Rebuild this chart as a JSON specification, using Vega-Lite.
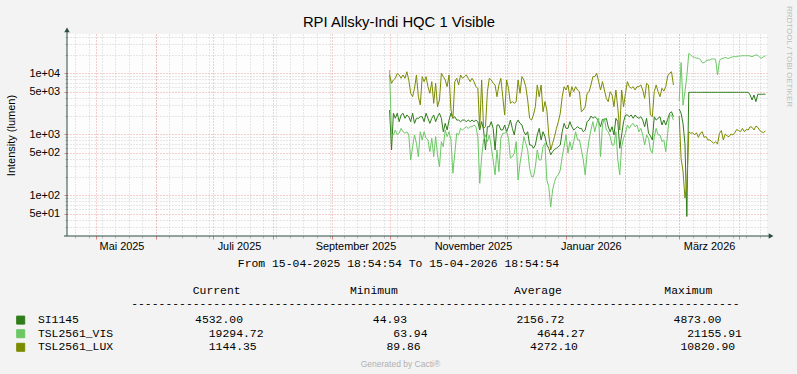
{
  "$schema": "https://vega.github.io/schema/vega-lite/v6.json",
  "width": 700,
  "height": 202,
  "autosize": {"type": "none"},
  "padding": {"left": 67, "top": 34, "right": 30, "bottom": 138},
  "background": "#F3F3F3",
  "config": {"view": {"stroke": null, "fill": "#FDFDFD"}, "font": "Liberation Sans"},
  "resolve": {"axis": {"x": "independent", "y": "independent"}},
  "layer": [
    {
      "data": {"values": [
        {"date":"2025-10-01","seg":1,"SI1145":2500,"TSL2561_VIS":11300,"TSL2561_LUX":9380},
        {"date":"2025-10-02","seg":1,"SI1145":553,"TSL2561_VIS":975,"TSL2561_LUX":6850},
        {"date":"2025-10-03","seg":1,"SI1145":2210,"TSL2561_VIS":975,"TSL2561_LUX":7770},
        {"date":"2025-10-04","seg":1,"SI1145":1830,"TSL2561_VIS":1175,"TSL2561_LUX":8280},
        {"date":"2025-10-05","seg":1,"SI1145":2210,"TSL2561_VIS":975,"TSL2561_LUX":10000},
        {"date":"2025-10-06","seg":1,"SI1145":1610,"TSL2561_VIS":1040,"TSL2561_LUX":9380},
        {"date":"2025-10-07","seg":1,"SI1145":2070,"TSL2561_VIS":1250,"TSL2561_LUX":8280},
        {"date":"2025-10-08","seg":1,"SI1145":2210,"TSL2561_VIS":1100,"TSL2561_LUX":9380},
        {"date":"2025-10-09","seg":1,"SI1145":1830,"TSL2561_VIS":1040,"TSL2561_LUX":8280},
        {"date":"2025-10-10","seg":1,"SI1145":2070,"TSL2561_VIS":1100,"TSL2561_LUX":10600},
        {"date":"2025-10-11","seg":1,"SI1145":1940,"TSL2561_VIS":975,"TSL2561_LUX":7770},
        {"date":"2025-10-12","seg":1,"SI1145":1610,"TSL2561_VIS":379,"TSL2561_LUX":4700},
        {"date":"2025-10-13","seg":1,"SI1145":2210,"TSL2561_VIS":627,"TSL2561_LUX":4130},
        {"date":"2025-10-14","seg":1,"SI1145":1510,"TSL2561_VIS":975,"TSL2561_LUX":5680},
        {"date":"2025-10-15","seg":1,"SI1145":1830,"TSL2561_VIS":711,"TSL2561_LUX":9380},
        {"date":"2025-10-16","seg":1,"SI1145":1830,"TSL2561_VIS":430,"TSL2561_LUX":4130},
        {"date":"2025-10-17","seg":1,"SI1145":1940,"TSL2561_VIS":1100,"TSL2561_LUX":3020},
        {"date":"2025-10-18","seg":1,"SI1145":1940,"TSL2561_VIS":807,"TSL2561_LUX":8800},
        {"date":"2025-10-19","seg":1,"SI1145":1610,"TSL2561_VIS":1100,"TSL2561_LUX":7290},
        {"date":"2025-10-20","seg":1,"SI1145":2210,"TSL2561_VIS":860,"TSL2561_LUX":8800},
        {"date":"2025-10-21","seg":1,"SI1145":1830,"TSL2561_VIS":807,"TSL2561_LUX":6030},
        {"date":"2025-10-22","seg":1,"SI1145":1510,"TSL2561_VIS":519,"TSL2561_LUX":4700},
        {"date":"2025-10-23","seg":1,"SI1145":1830,"TSL2561_VIS":860,"TSL2561_LUX":7290},
        {"date":"2025-10-24","seg":1,"SI1145":2070,"TSL2561_VIS":430,"TSL2561_LUX":3220},
        {"date":"2025-10-25","seg":1,"SI1145":1610,"TSL2561_VIS":915,"TSL2561_LUX":6850},
        {"date":"2025-10-26","seg":1,"SI1145":1940,"TSL2561_VIS":460,"TSL2561_LUX":2830},
        {"date":"2025-10-27","seg":1,"SI1145":2210,"TSL2561_VIS":294,"TSL2561_LUX":3650},
        {"date":"2025-10-28","seg":1,"SI1145":1830,"TSL2561_VIS":757,"TSL2561_LUX":10000},
        {"date":"2025-10-29","seg":1,"SI1145":1100,"TSL2561_VIS":627,"TSL2561_LUX":8800},
        {"date":"2025-10-30","seg":1,"SI1145":1510,"TSL2561_VIS":1175,"TSL2561_LUX":7770},
        {"date":"2025-10-31","seg":1,"SI1145":1175,"TSL2561_VIS":915,"TSL2561_LUX":6030},
        {"date":"2025-11-01","seg":1,"SI1145":1710,"TSL2561_VIS":1100,"TSL2561_LUX":9380},
        {"date":"2025-11-02","seg":1,"SI1145":2210,"TSL2561_VIS":807,"TSL2561_LUX":2500},
        {"date":"2025-11-03","seg":1,"SI1145":1830,"TSL2561_VIS":230,"TSL2561_LUX":1830},
        {"date":"2025-11-04","seg":1,"SI1145":1940,"TSL2561_VIS":489,"TSL2561_LUX":7290},
        {"date":"2025-11-05","seg":1,"SI1145":1710,"TSL2561_VIS":1040,"TSL2561_LUX":8280},
        {"date":"2025-11-06","seg":1,"SI1145":1710,"TSL2561_VIS":975,"TSL2561_LUX":6430},
        {"date":"2025-11-07","seg":1,"SI1145":1610,"TSL2561_VIS":1250,"TSL2561_LUX":9380},
        {"date":"2025-11-08","seg":1,"SI1145":1710,"TSL2561_VIS":1175,"TSL2561_LUX":8280},
        {"date":"2025-11-09","seg":1,"SI1145":1710,"TSL2561_VIS":1250,"TSL2561_LUX":8800},
        {"date":"2025-11-10","seg":1,"SI1145":1610,"TSL2561_VIS":1330,"TSL2561_LUX":9380},
        {"date":"2025-11-11","seg":1,"SI1145":1710,"TSL2561_VIS":1250,"TSL2561_LUX":8280},
        {"date":"2025-11-12","seg":1,"SI1145":1610,"TSL2561_VIS":1330,"TSL2561_LUX":7290},
        {"date":"2025-11-13","seg":1,"SI1145":1710,"TSL2561_VIS":1330,"TSL2561_LUX":8280},
        {"date":"2025-11-14","seg":1,"SI1145":1610,"TSL2561_VIS":1420,"TSL2561_LUX":7290},
        {"date":"2025-11-15","seg":1,"SI1145":1710,"TSL2561_VIS":1330,"TSL2561_LUX":6030},
        {"date":"2025-11-16","seg":1,"SI1145":1610,"TSL2561_VIS":915,"TSL2561_LUX":5680},
        {"date":"2025-11-17","seg":1,"SI1145":1175,"TSL2561_VIS":157,"TSL2561_LUX":1250},
        {"date":"2025-11-18","seg":1,"SI1145":1610,"TSL2561_VIS":430,"TSL2561_LUX":7770},
        {"date":"2025-11-19","seg":1,"SI1145":1175,"TSL2561_VIS":807,"TSL2561_LUX":1250},
        {"date":"2025-11-20","seg":1,"SI1145":553,"TSL2561_VIS":975,"TSL2561_LUX":1330},
        {"date":"2025-11-21","seg":1,"SI1145":1330,"TSL2561_VIS":757,"TSL2561_LUX":4990},
        {"date":"2025-11-22","seg":1,"SI1145":1330,"TSL2561_VIS":975,"TSL2561_LUX":8280},
        {"date":"2025-11-23","seg":1,"SI1145":1610,"TSL2561_VIS":627,"TSL2561_LUX":7770},
        {"date":"2025-11-24","seg":1,"SI1145":1250,"TSL2561_VIS":379,"TSL2561_LUX":6850},
        {"date":"2025-11-25","seg":1,"SI1145":553,"TSL2561_VIS":216,"TSL2561_LUX":6430},
        {"date":"2025-11-26","seg":1,"SI1145":1420,"TSL2561_VIS":553,"TSL2561_LUX":4130},
        {"date":"2025-11-27","seg":1,"SI1145":1420,"TSL2561_VIS":245,"TSL2561_LUX":6430},
        {"date":"2025-11-28","seg":1,"SI1145":1175,"TSL2561_VIS":860,"TSL2561_LUX":8280},
        {"date":"2025-11-29","seg":1,"SI1145":1175,"TSL2561_VIS":1040,"TSL2561_LUX":4130},
        {"date":"2025-11-30","seg":1,"SI1145":1420,"TSL2561_VIS":1040,"TSL2561_LUX":2070},
        {"date":"2025-12-01","seg":1,"SI1145":1100,"TSL2561_VIS":1100,"TSL2561_LUX":7770},
        {"date":"2025-12-02","seg":1,"SI1145":1330,"TSL2561_VIS":860,"TSL2561_LUX":5680},
        {"date":"2025-12-03","seg":1,"SI1145":1710,"TSL2561_VIS":405,"TSL2561_LUX":3220},
        {"date":"2025-12-04","seg":1,"SI1145":1250,"TSL2561_VIS":430,"TSL2561_LUX":3430},
        {"date":"2025-12-05","seg":1,"SI1145":975,"TSL2561_VIS":489,"TSL2561_LUX":3220},
        {"date":"2025-12-06","seg":1,"SI1145":1510,"TSL2561_VIS":757,"TSL2561_LUX":3430},
        {"date":"2025-12-07","seg":1,"SI1145":1710,"TSL2561_VIS":178,"TSL2561_LUX":7770},
        {"date":"2025-12-08","seg":1,"SI1145":1510,"TSL2561_VIS":335,"TSL2561_LUX":4700},
        {"date":"2025-12-09","seg":1,"SI1145":1420,"TSL2561_VIS":519,"TSL2561_LUX":8800},
        {"date":"2025-12-10","seg":1,"SI1145":1100,"TSL2561_VIS":915,"TSL2561_LUX":7770},
        {"date":"2025-12-11","seg":1,"SI1145":975,"TSL2561_VIS":711,"TSL2561_LUX":6030},
        {"date":"2025-12-12","seg":1,"SI1145":1100,"TSL2561_VIS":553,"TSL2561_LUX":3650},
        {"date":"2025-12-13","seg":1,"SI1145":667,"TSL2561_VIS":277,"TSL2561_LUX":1830},
        {"date":"2025-12-14","seg":1,"SI1145":667,"TSL2561_VIS":202,"TSL2561_LUX":1710},
        {"date":"2025-12-15","seg":1,"SI1145":590,"TSL2561_VIS":202,"TSL2561_LUX":2070},
        {"date":"2025-12-16","seg":1,"SI1145":667,"TSL2561_VIS":294,"TSL2561_LUX":2830},
        {"date":"2025-12-17","seg":1,"SI1145":975,"TSL2561_VIS":553,"TSL2561_LUX":6430},
        {"date":"2025-12-18","seg":1,"SI1145":1250,"TSL2561_VIS":379,"TSL2561_LUX":4130},
        {"date":"2025-12-19","seg":1,"SI1145":807,"TSL2561_VIS":379,"TSL2561_LUX":6430},
        {"date":"2025-12-20","seg":1,"SI1145":1100,"TSL2561_VIS":627,"TSL2561_LUX":2340},
        {"date":"2025-12-21","seg":1,"SI1145":915,"TSL2561_VIS":711,"TSL2561_LUX":3430},
        {"date":"2025-12-22","seg":1,"SI1145":667,"TSL2561_VIS":178,"TSL2561_LUX":2500},
        {"date":"2025-12-23","seg":1,"SI1145":590,"TSL2561_VIS":138,"TSL2561_LUX":975},
        {"date":"2025-12-24","seg":1,"SI1145":460,"TSL2561_VIS":63.94,"TSL2561_LUX":553},
        {"date":"2025-12-25","seg":1,"SI1145":519,"TSL2561_VIS":122,"TSL2561_LUX":711},
        {"date":"2025-12-26","seg":1,"SI1145":565,"TSL2561_VIS":167,"TSL2561_LUX":915},
        {"date":"2025-12-27","seg":1,"SI1145":590,"TSL2561_VIS":202,"TSL2561_LUX":1250},
        {"date":"2025-12-28","seg":1,"SI1145":627,"TSL2561_VIS":216,"TSL2561_LUX":1610},
        {"date":"2025-12-29","seg":1,"SI1145":667,"TSL2561_VIS":260,"TSL2561_LUX":2210},
        {"date":"2025-12-30","seg":1,"SI1145":1100,"TSL2561_VIS":430,"TSL2561_LUX":4130},
        {"date":"2025-12-31","seg":1,"SI1145":1510,"TSL2561_VIS":627,"TSL2561_LUX":6030},
        {"date":"2026-01-01","seg":1,"SI1145":1250,"TSL2561_VIS":975,"TSL2561_LUX":5320},
        {"date":"2026-01-02","seg":1,"SI1145":1250,"TSL2561_VIS":489,"TSL2561_LUX":6430},
        {"date":"2026-01-03","seg":1,"SI1145":1610,"TSL2561_VIS":757,"TSL2561_LUX":4130},
        {"date":"2026-01-04","seg":1,"SI1145":1330,"TSL2561_VIS":553,"TSL2561_LUX":6030},
        {"date":"2026-01-05","seg":1,"SI1145":1175,"TSL2561_VIS":757,"TSL2561_LUX":4990},
        {"date":"2026-01-06","seg":1,"SI1145":1250,"TSL2561_VIS":1100,"TSL2561_LUX":6030},
        {"date":"2026-01-07","seg":1,"SI1145":1330,"TSL2561_VIS":807,"TSL2561_LUX":5320},
        {"date":"2026-01-08","seg":1,"SI1145":1250,"TSL2561_VIS":807,"TSL2561_LUX":4990},
        {"date":"2026-01-09","seg":1,"SI1145":1250,"TSL2561_VIS":553,"TSL2561_LUX":2340},
        {"date":"2026-01-10","seg":1,"SI1145":1100,"TSL2561_VIS":379,"TSL2561_LUX":2500},
        {"date":"2026-01-11","seg":1,"SI1145":1175,"TSL2561_VIS":216,"TSL2561_LUX":2830},
        {"date":"2026-01-12","seg":1,"SI1145":1610,"TSL2561_VIS":489,"TSL2561_LUX":4700},
        {"date":"2026-01-13","seg":1,"SI1145":1710,"TSL2561_VIS":807,"TSL2561_LUX":4990},
        {"date":"2026-01-14","seg":1,"SI1145":1990,"TSL2561_VIS":1175,"TSL2561_LUX":6430},
        {"date":"2026-01-15","seg":1,"SI1145":1830,"TSL2561_VIS":1610,"TSL2561_LUX":8800},
        {"date":"2026-01-16","seg":1,"SI1145":1940,"TSL2561_VIS":1100,"TSL2561_LUX":8800},
        {"date":"2026-01-17","seg":1,"SI1145":1830,"TSL2561_VIS":1510,"TSL2561_LUX":10000},
        {"date":"2026-01-18","seg":1,"SI1145":1610,"TSL2561_VIS":1830,"TSL2561_LUX":7290},
        {"date":"2026-01-19","seg":1,"SI1145":1330,"TSL2561_VIS":430,"TSL2561_LUX":5320},
        {"date":"2026-01-20","seg":1,"SI1145":1760,"TSL2561_VIS":1420,"TSL2561_LUX":7290},
        {"date":"2026-01-21","seg":1,"SI1145":1710,"TSL2561_VIS":1830,"TSL2561_LUX":5320},
        {"date":"2026-01-22","seg":1,"SI1145":1830,"TSL2561_VIS":1175,"TSL2561_LUX":3880},
        {"date":"2026-01-23","seg":1,"SI1145":1330,"TSL2561_VIS":1100,"TSL2561_LUX":3430},
        {"date":"2026-01-24","seg":1,"SI1145":1100,"TSL2561_VIS":915,"TSL2561_LUX":4990},
        {"date":"2026-01-25","seg":1,"SI1145":1330,"TSL2561_VIS":667,"TSL2561_LUX":4400},
        {"date":"2026-01-26","seg":1,"SI1145":975,"TSL2561_VIS":667,"TSL2561_LUX":2830},
        {"date":"2026-01-27","seg":1,"SI1145":1830,"TSL2561_VIS":1100,"TSL2561_LUX":5320},
        {"date":"2026-01-28","seg":1,"SI1145":1610,"TSL2561_VIS":379,"TSL2561_LUX":2660},
        {"date":"2026-01-29","seg":1,"SI1145":590,"TSL2561_VIS":216,"TSL2561_LUX":1175},
        {"date":"2026-01-30","seg":1,"SI1145":975,"TSL2561_VIS":627,"TSL2561_LUX":5320},
        {"date":"2026-01-31","seg":1,"SI1145":1610,"TSL2561_VIS":860,"TSL2561_LUX":2830},
        {"date":"2026-02-01","seg":1,"SI1145":2070,"TSL2561_VIS":1040,"TSL2561_LUX":4700},
        {"date":"2026-02-02","seg":1,"SI1145":2070,"TSL2561_VIS":1420,"TSL2561_LUX":7290},
        {"date":"2026-02-03","seg":1,"SI1145":1940,"TSL2561_VIS":1250,"TSL2561_LUX":6030},
        {"date":"2026-02-04","seg":1,"SI1145":2070,"TSL2561_VIS":1420,"TSL2561_LUX":5680},
        {"date":"2026-02-05","seg":1,"SI1145":1830,"TSL2561_VIS":1510,"TSL2561_LUX":6030},
        {"date":"2026-02-06","seg":1,"SI1145":2070,"TSL2561_VIS":1330,"TSL2561_LUX":5320},
        {"date":"2026-02-07","seg":1,"SI1145":1900,"TSL2561_VIS":1420,"TSL2561_LUX":6030},
        {"date":"2026-02-08","seg":1,"SI1145":1830,"TSL2561_VIS":1100,"TSL2561_LUX":6030},
        {"date":"2026-02-09","seg":1,"SI1145":1940,"TSL2561_VIS":1250,"TSL2561_LUX":6430},
        {"date":"2026-02-10","seg":1,"SI1145":1710,"TSL2561_VIS":975,"TSL2561_LUX":5320},
        {"date":"2026-02-11","seg":1,"SI1145":1330,"TSL2561_VIS":667,"TSL2561_LUX":3880},
        {"date":"2026-02-12","seg":1,"SI1145":1830,"TSL2561_VIS":975,"TSL2561_LUX":6850},
        {"date":"2026-02-13","seg":1,"SI1145":1040,"TSL2561_VIS":860,"TSL2561_LUX":6430},
        {"date":"2026-02-14","seg":1,"SI1145":940,"TSL2561_VIS":553,"TSL2561_LUX":2070},
        {"date":"2026-02-15","seg":1,"SI1145":807,"TSL2561_VIS":489,"TSL2561_LUX":1940},
        {"date":"2026-02-16","seg":1,"SI1145":1940,"TSL2561_VIS":915,"TSL2561_LUX":4990},
        {"date":"2026-02-17","seg":1,"SI1145":1710,"TSL2561_VIS":1250,"TSL2561_LUX":6430},
        {"date":"2026-02-18","seg":1,"SI1145":1830,"TSL2561_VIS":975,"TSL2561_LUX":4990},
        {"date":"2026-02-19","seg":1,"SI1145":1940,"TSL2561_VIS":975,"TSL2561_LUX":4130},
        {"date":"2026-02-20","seg":1,"SI1145":1420,"TSL2561_VIS":757,"TSL2561_LUX":5680},
        {"date":"2026-02-21","seg":1,"SI1145":1710,"TSL2561_VIS":807,"TSL2561_LUX":5100},
        {"date":"2026-02-22","seg":1,"SI1145":1420,"TSL2561_VIS":519,"TSL2561_LUX":6030},
        {"date":"2026-02-23","seg":1,"SI1145":1760,"TSL2561_VIS":1040,"TSL2561_LUX":9000},
        {"date":"2026-02-24","seg":1,"SI1145":2210,"TSL2561_VIS":2070,"TSL2561_LUX":10000},
        {"date":"2026-02-25","seg":1,"SI1145":2340,"TSL2561_VIS":2070,"TSL2561_LUX":10600},
        {"date":"2026-02-26","seg":1,"SI1145":1940,"TSL2561_VIS":1710,"TSL2561_LUX":6430},
        {"date":"2026-03-01","seg":2,"SI1145":2600,"TSL2561_VIS":3500,"TSL2561_LUX":2000},
        {"date":"2026-03-02","seg":2,"SI1145":2200,"TSL2561_VIS":15000,"TSL2561_LUX":400},
        {"date":"2026-03-03","seg":2,"SI1145":1500,"TSL2561_VIS":3000,"TSL2561_LUX":250},
        {"date":"2026-03-04","seg":2,"SI1145":700,"TSL2561_VIS":5000,"TSL2561_LUX":89.86},
        {"date":"2026-03-05","seg":2,"SI1145":44.93,"TSL2561_VIS":9000,"TSL2561_LUX":150},
        {"date":"2026-03-06","seg":2,"SI1145":4873,"TSL2561_VIS":21155.91,"TSL2561_LUX":1100},
        {"date":"2026-03-07","seg":2,"SI1145":4873,"TSL2561_VIS":19950,"TSL2561_LUX":1040},
        {"date":"2026-03-08","seg":2,"SI1145":4873,"TSL2561_VIS":18700,"TSL2561_LUX":1060},
        {"date":"2026-03-09","seg":2,"SI1145":4873,"TSL2561_VIS":18200,"TSL2561_LUX":975},
        {"date":"2026-03-10","seg":2,"SI1145":4873,"TSL2561_VIS":17640,"TSL2561_LUX":1060},
        {"date":"2026-03-11","seg":2,"SI1145":4873,"TSL2561_VIS":17640,"TSL2561_LUX":890},
        {"date":"2026-03-12","seg":2,"SI1145":4873,"TSL2561_VIS":16900,"TSL2561_LUX":1040},
        {"date":"2026-03-13","seg":2,"SI1145":4873,"TSL2561_VIS":14900,"TSL2561_LUX":1100},
        {"date":"2026-03-14","seg":2,"SI1145":4873,"TSL2561_VIS":14900,"TSL2561_LUX":890},
        {"date":"2026-03-15","seg":2,"SI1145":4873,"TSL2561_VIS":16000,"TSL2561_LUX":915},
        {"date":"2026-03-16","seg":2,"SI1145":4873,"TSL2561_VIS":16500,"TSL2561_LUX":807},
        {"date":"2026-03-17","seg":2,"SI1145":4873,"TSL2561_VIS":16500,"TSL2561_LUX":807},
        {"date":"2026-03-18","seg":2,"SI1145":4873,"TSL2561_VIS":17200,"TSL2561_LUX":757},
        {"date":"2026-03-19","seg":2,"SI1145":4873,"TSL2561_VIS":17200,"TSL2561_LUX":711},
        {"date":"2026-03-20","seg":2,"SI1145":4873,"TSL2561_VIS":16900,"TSL2561_LUX":757},
        {"date":"2026-03-21","seg":2,"SI1145":4873,"TSL2561_VIS":9400,"TSL2561_LUX":690},
        {"date":"2026-03-22","seg":2,"SI1145":4873,"TSL2561_VIS":16000,"TSL2561_LUX":1040},
        {"date":"2026-03-23","seg":2,"SI1145":4873,"TSL2561_VIS":17400,"TSL2561_LUX":1150},
        {"date":"2026-03-24","seg":2,"SI1145":4873,"TSL2561_VIS":17640,"TSL2561_LUX":807},
        {"date":"2026-03-25","seg":2,"SI1145":4873,"TSL2561_VIS":18200,"TSL2561_LUX":1010},
        {"date":"2026-03-26","seg":2,"SI1145":4873,"TSL2561_VIS":17640,"TSL2561_LUX":940},
        {"date":"2026-03-27","seg":2,"SI1145":4873,"TSL2561_VIS":17640,"TSL2561_LUX":915},
        {"date":"2026-03-28","seg":2,"SI1145":4873,"TSL2561_VIS":18200,"TSL2561_LUX":1010},
        {"date":"2026-03-29","seg":2,"SI1145":4873,"TSL2561_VIS":18700,"TSL2561_LUX":975},
        {"date":"2026-03-30","seg":2,"SI1145":4873,"TSL2561_VIS":18700,"TSL2561_LUX":1060},
        {"date":"2026-03-31","seg":2,"SI1145":4873,"TSL2561_VIS":18700,"TSL2561_LUX":1200},
        {"date":"2026-04-01","seg":2,"SI1145":4873,"TSL2561_VIS":19200,"TSL2561_LUX":1150},
        {"date":"2026-04-02","seg":2,"SI1145":4873,"TSL2561_VIS":19200,"TSL2561_LUX":1100},
        {"date":"2026-04-03","seg":2,"SI1145":4873,"TSL2561_VIS":19400,"TSL2561_LUX":1250},
        {"date":"2026-04-04","seg":2,"SI1145":4873,"TSL2561_VIS":19400,"TSL2561_LUX":1100},
        {"date":"2026-04-05","seg":2,"SI1145":4873,"TSL2561_VIS":19400,"TSL2561_LUX":1200},
        {"date":"2026-04-06","seg":2,"SI1145":4873,"TSL2561_VIS":19400,"TSL2561_LUX":1175},
        {"date":"2026-04-07","seg":2,"SI1145":4410,"TSL2561_VIS":19200,"TSL2561_LUX":1330},
        {"date":"2026-04-08","seg":2,"SI1145":3650,"TSL2561_VIS":18700,"TSL2561_LUX":1300},
        {"date":"2026-04-09","seg":2,"SI1145":4410,"TSL2561_VIS":19400,"TSL2561_LUX":1175},
        {"date":"2026-04-10","seg":2,"SI1145":3430,"TSL2561_VIS":19950,"TSL2561_LUX":1360},
        {"date":"2026-04-11","seg":2,"SI1145":4532,"TSL2561_VIS":19700,"TSL2561_LUX":1300},
        {"date":"2026-04-12","seg":2,"SI1145":4532,"TSL2561_VIS":18200,"TSL2561_LUX":1150},
        {"date":"2026-04-13","seg":2,"SI1145":4532,"TSL2561_VIS":17640,"TSL2561_LUX":1100},
        {"date":"2026-04-14","seg":2,"SI1145":4532,"TSL2561_VIS":18700,"TSL2561_LUX":1060},
        {"date":"2026-04-15","seg":2,"SI1145":4532,"TSL2561_VIS":19294.72,"TSL2561_LUX":1144.35}
      ]},
      "transform": [{"fold": ["SI1145", "TSL2561_VIS", "TSL2561_LUX"], "as": ["series", "value"]}],
      "mark": {"type": "line", "strokeWidth": 1, "clip": true},
      "encoding": {
        "x": {"field": "date", "type": "temporal",
          "scale": {"type": "utc", "nice": false, "domain": [{"year": 2025, "month": 4, "date": 15, "hours": 18, "minutes": 54, "seconds": 54, "utc": true}, {"year": 2026, "month": 4, "date": 15, "hours": 18, "minutes": 54, "seconds": 54, "utc": true}]},
          "axis": {"orient": "bottom", "tickCount": {"interval": "week", "step": 1}, "grid": true, "gridColor": "#CFCFCF", "gridDash": [1, 2], "gridWidth": 1, "ticks": true, "tickColor": "#BBBBBB", "tickSize": 2, "labels": false, "domain": false,
            "title": "Generated by Cacti®", "titleX": 333, "titleY": 127, "titleAlign": "center", "titleBaseline": "middle", "titleAngle": 0, "titleFont": "Liberation Sans", "titleFontSize": 8.5, "titleFontWeight": "normal", "titleColor": "#B0B0B0"}},
        "y": {"field": "value", "type": "quantitative",
          "scale": {"type": "log", "domain": [21.5, 44050], "nice": false},
          "axis": {"orient": "left", "values": [30, 40, 60, 70, 80, 90, 200, 300, 400, 600, 700, 800, 900, 2000, 3000, 4000, 6000, 7000, 8000, 9000, 20000, 30000, 40000], "grid": true, "gridColor": "#CFCFCF", "gridDash": [1, 2], "ticks": true, "tickColor": "#BBBBBB", "tickSize": 2, "labels": false, "domain": false,
            "title": "Intensity (lumen)", "titleX": -56, "titleY": 101, "titleAngle": 270, "titleAlign": "center", "titleBaseline": "middle", "titleFont": "Liberation Sans", "titleFontSize": 11, "titleFontWeight": "normal", "titleColor": "#000000"}},
        "color": {"field": "series", "type": "nominal",
          "scale": {"domain": ["SI1145", "TSL2561_VIS", "TSL2561_LUX"], "range": ["#2E7D1A", "#6CC865", "#7C8C00"]},
          "legend": {
            "orient": "none", "legendX": -52, "legendY": 251, "direction": "vertical", "padding": 0,
            "title": ["\u200b\u00a0\u00a0\u00a0\u00a0\u00a0\u00a0\u00a0\u00a0\u00a0\u00a0\u00a0\u00a0\u00a0\u00a0\u00a0\u00a0\u00a0\u00a0\u00a0\u00a0\u00a0\u00a0\u00a0\u00a0\u00a0\u00a0Current\u00a0\u00a0\u00a0\u00a0\u00a0\u00a0\u00a0\u00a0\u00a0\u00a0\u00a0\u00a0\u00a0\u00a0\u00a0\u00a0Minimum\u00a0\u00a0\u00a0\u00a0\u00a0\u00a0\u00a0\u00a0\u00a0\u00a0\u00a0\u00a0\u00a0\u00a0\u00a0\u00a0\u00a0Average\u00a0\u00a0\u00a0\u00a0\u00a0\u00a0\u00a0\u00a0\u00a0\u00a0\u00a0\u00a0\u00a0\u00a0\u00a0Maximum", "\u200b\u00a0\u00a0\u00a0\u00a0\u00a0\u00a0\u00a0\u00a0\u00a0\u00a0\u00a0\u00a0\u00a0\u00a0\u00a0\u00a0\u00a0-----------------------------------------------------------------------------------------"],
            "titleFont": "Liberation Mono", "titleFontSize": 11.4, "titleFontWeight": "normal", "titleColor": "#000000", "titleLineHeight": 13, "titlePadding": 5, "titleLimit": 2000, "titleAnchor": "start",
            "labelFont": "Liberation Mono", "labelFontSize": 11.4, "labelColor": "#000000", "labelLimit": 2000, "labelOffset": 11.5,
            "labelExpr": "datum.label == 'SI1145' ? 'SI1145\u00a0\u00a0\u00a0\u00a0\u00a0\u00a0\u00a0\u00a0\u00a0\u00a0\u00a0\u00a0\u00a0\u00a0\u00a0\u00a0\u00a04532.00\u00a0\u00a0\u00a0\u00a0\u00a0\u00a0\u00a0\u00a0\u00a0\u00a0\u00a0\u00a0\u00a0\u00a0\u00a0\u00a0\u00a0\u00a0\u00a044.93\u00a0\u00a0\u00a0\u00a0\u00a0\u00a0\u00a0\u00a0\u00a0\u00a0\u00a0\u00a0\u00a0\u00a0\u00a0\u00a02156.72\u00a0\u00a0\u00a0\u00a0\u00a0\u00a0\u00a0\u00a0\u00a0\u00a0\u00a0\u00a0\u00a0\u00a0\u00a0\u00a04873.00' : datum.label == 'TSL2561_VIS' ? 'TSL2561_VIS\u00a0\u00a0\u00a0\u00a0\u00a0\u00a0\u00a0\u00a0\u00a0\u00a0\u00a0\u00a0\u00a0\u00a019294.72\u00a0\u00a0\u00a0\u00a0\u00a0\u00a0\u00a0\u00a0\u00a0\u00a0\u00a0\u00a0\u00a0\u00a0\u00a0\u00a0\u00a0\u00a0\u00a063.94\u00a0\u00a0\u00a0\u00a0\u00a0\u00a0\u00a0\u00a0\u00a0\u00a0\u00a0\u00a0\u00a0\u00a0\u00a0\u00a04644.27\u00a0\u00a0\u00a0\u00a0\u00a0\u00a0\u00a0\u00a0\u00a0\u00a0\u00a0\u00a0\u00a0\u00a0\u00a021155.91' : 'TSL2561_LUX\u00a0\u00a0\u00a0\u00a0\u00a0\u00a0\u00a0\u00a0\u00a0\u00a0\u00a0\u00a0\u00a0\u00a01144.35\u00a0\u00a0\u00a0\u00a0\u00a0\u00a0\u00a0\u00a0\u00a0\u00a0\u00a0\u00a0\u00a0\u00a0\u00a0\u00a0\u00a0\u00a0\u00a089.86\u00a0\u00a0\u00a0\u00a0\u00a0\u00a0\u00a0\u00a0\u00a0\u00a0\u00a0\u00a0\u00a0\u00a0\u00a0\u00a04272.10\u00a0\u00a0\u00a0\u00a0\u00a0\u00a0\u00a0\u00a0\u00a0\u00a0\u00a0\u00a0\u00a0\u00a0\u00a010820.90'",
            "symbolType": "square", "symbolSize": 64, "symbolStrokeWidth": 1, "symbolStrokeColor": "#333333", "symbolOpacity": 1,
            "rowPadding": 0.6,
            "encode": {"symbols": {"update": {"fill": {"scale": "color", "field": "value"}, "stroke": {"value": "#333333"}, "strokeWidth": {"value": 1}}}}
          }},
        "detail": {"field": "seg", "type": "nominal"}
      }
    },
    {
      "data": {"values": [{"from": "2025-04-14T05:00:00Z", "to": "2026-04-17T21:20:00Z", "level": 21.5}]},
      "mark": {"type": "rule", "color": "#2C4D43", "strokeWidth": 1, "clip": false},
      "encoding": {
        "x": {"field": "from", "type": "temporal",
          "scale": {"type": "utc", "nice": false, "domain": [{"year": 2025, "month": 4, "date": 15, "hours": 18, "minutes": 54, "seconds": 54, "utc": true}, {"year": 2026, "month": 4, "date": 15, "hours": 18, "minutes": 54, "seconds": 54, "utc": true}]},
          "axis": {"orient": "bottom", "tickCount": {"interval": "month", "step": 1}, "grid": true, "gridColor": "#EBA0A0", "gridDash": [1, 2], "gridWidth": 1, "ticks": true, "tickColor": "#E08080", "tickSize": 3, "labels": false, "domain": false,
            "title": "From 15-04-2025 18:54:54 To 15-04-2026 18:54:54", "titleX": 331, "titleY": 27, "titleAlign": "center", "titleBaseline": "middle", "titleAngle": 0, "titleFont": "Liberation Mono", "titleFontSize": 11.4, "titleFontWeight": "normal", "titleColor": "#000000"}},
        "x2": {"field": "to"},
        "y": {"field": "level", "type": "quantitative",
          "scale": {"type": "log", "domain": [21.5, 44050], "nice": false},
          "axis": {"orient": "left", "values": [50, 100, 500, 1000, 5000, 10000], "grid": true, "gridColor": "#EBA0A0", "gridDash": [1, 2], "gridWidth": 1, "ticks": true, "tickColor": "#E08080", "tickSize": 3, "labels": true,
            "labelExpr": "datum.value == 50 ? '5e+01' : datum.value == 100 ? '1e+02' : datum.value == 500 ? '5e+02' : datum.value == 1000 ? '1e+03' : datum.value == 5000 ? '5e+03' : '1e+04'",
            "labelFont": "Liberation Sans", "labelFontSize": 10.9, "labelColor": "#000000", "labelPadding": 4.5, "labelOverlap": false, "domain": false, "title": null}}
      }
    },
    {
      "data": {"values": [{"at": "2025-04-15T18:54:54Z", "low": 21.5, "high": 51270}]},
      "mark": {"type": "rule", "color": "#2C4D43", "strokeWidth": 1, "clip": false},
      "encoding": {
        "x": {"field": "at", "type": "temporal",
          "scale": {"type": "utc", "nice": false, "domain": [{"year": 2025, "month": 4, "date": 15, "hours": 18, "minutes": 54, "seconds": 54, "utc": true}, {"year": 2026, "month": 4, "date": 15, "hours": 18, "minutes": 54, "seconds": 54, "utc": true}]},
          "axis": {"orient": "bottom",
            "values": [
              {"year": 2025, "month": 5, "date": 14, "hours": 5, "utc": true},
              {"year": 2025, "month": 7, "date": 14, "hours": 11, "utc": true},
              {"year": 2025, "month": 9, "date": 13, "hours": 5, "utc": true},
              {"year": 2025, "month": 11, "date": 13, "hours": 11, "utc": true},
              {"year": 2026, "month": 1, "date": 13, "hours": 23, "utc": true},
              {"year": 2026, "month": 3, "date": 16, "hours": 14, "utc": true}],
            "grid": false, "ticks": false, "tickSize": 0, "labels": true,
            "labelExpr": "['Januar','Februar','März','April','Mai','Juni','Juli','August','September','Oktober','November','Dezember'][utcmonth(datum.value)] + ' ' + utcyear(datum.value)",
            "labelFont": "Liberation Sans", "labelFontSize": 10.9, "labelColor": "#000000", "labelPadding": 4, "labelOverlap": false, "labelFlush": false, "labelBound": false, "domain": false, "title": null}},
        "y": {"field": "low", "type": "quantitative",
          "scale": {"type": "log", "domain": [21.5, 44050], "nice": false},
          "axis": {"orient": "right", "grid": false, "ticks": false, "labels": false, "domain": false,
            "title": "RRDTOOL / TOBI OETIKER", "titleAngle": 90, "titleX": 21.3, "titleY": 22, "titleAlign": "center", "titleBaseline": "middle", "titleFont": "Liberation Sans", "titleFontSize": 8, "titleFontWeight": "normal", "titleColor": "#BDBDBD"}},
        "y2": {"field": "high"}
      }
    },
    {
      "data": {"values": [{"at": "2025-04-15T18:54:54Z", "v": 51270}]},
      "mark": {"type": "point", "shape": "triangle-up", "filled": true, "size": 30, "color": "#2C4D43", "opacity": 1, "clip": false},
      "encoding": {
        "x": {"field": "at", "type": "temporal",
          "scale": {"type": "utc", "nice": false, "domain": [{"year": 2025, "month": 4, "date": 15, "hours": 18, "minutes": 54, "seconds": 54, "utc": true}, {"year": 2026, "month": 4, "date": 15, "hours": 18, "minutes": 54, "seconds": 54, "utc": true}]},
          "axis": {"orient": "top", "grid": false, "ticks": false, "labels": false, "domain": false,
            "title": "RPI Allsky-Indi HQC 1 Visible", "titleX": 331.5, "titleY": -12, "titleAlign": "center", "titleBaseline": "middle", "titleAngle": 0, "titleFont": "Liberation Sans", "titleFontSize": 14.8, "titleFontWeight": "normal", "titleColor": "#000000"}},
        "y": {"field": "v", "type": "quantitative", "scale": {"type": "log", "domain": [21.5, 44050], "nice": false}, "axis": null}
      }
    },
    {
      "data": {"values": [{"at": "2026-04-17T21:20:00Z", "v": 21.5}]},
      "mark": {"type": "point", "shape": "triangle-right", "filled": true, "size": 30, "color": "#2C4D43", "opacity": 1, "clip": false},
      "encoding": {
        "x": {"field": "at", "type": "temporal",
          "scale": {"type": "utc", "nice": false, "domain": [{"year": 2025, "month": 4, "date": 15, "hours": 18, "minutes": 54, "seconds": 54, "utc": true}, {"year": 2026, "month": 4, "date": 15, "hours": 18, "minutes": 54, "seconds": 54, "utc": true}]},
          "axis": null},
        "y": {"field": "v", "type": "quantitative", "scale": {"type": "log", "domain": [21.5, 44050], "nice": false}, "axis": null}
      }
    }
  ]
}
